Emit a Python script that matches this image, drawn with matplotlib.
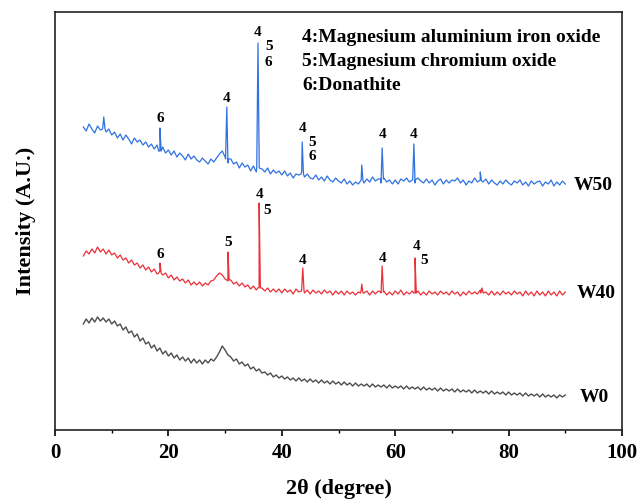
import numpy as np
import matplotlib
matplotlib.use("Agg")
import matplotlib.pyplot as plt

plt.rcParams['font.family'] = ['Liberation Serif', 'DejaVu Serif']
plt.rcParams['font.weight'] = 'bold'

# baseline intensities on a 0.5 degree grid from 5 to 90 (arbitrary units)
w50_base = [303, 299, 306, 301, 297, 304, 300, 306, 298, 301, 295,
            298, 292, 296, 290, 295, 291, 286, 292, 288, 290,
            285, 288, 283, 286, 281, 285, 279, 283, 277, 280,
            275, 279, 273, 277, 274, 270, 276, 271, 274, 270,
            268, 272, 269, 266, 271, 268, 272, 276, 279, 273,
            267, 271, 266, 268, 262, 267, 263, 265, 259, 264,
            258, 263, 261, 258, 262, 256, 260, 257, 259, 255,
            259, 254, 257, 252, 256, 255, 258, 253, 256, 252,
            251, 255, 250, 253, 249, 254, 250, 248, 252, 249,
            247, 251, 246, 249, 245, 248, 246, 250, 247, 251,
            248, 253, 249, 251, 247, 252, 248, 250, 246, 250,
            246, 251, 249, 252, 248, 250, 247, 252, 249, 247,
            251, 247, 250, 245, 249, 251, 246, 250, 247, 250,
            249, 252, 247, 250, 245, 249, 247, 252, 248, 250,
            248, 251, 246, 250, 247, 245, 249, 246, 250, 247,
            245, 249, 247, 250, 245, 248, 244, 249, 246, 248,
            249, 244, 248, 246, 250, 244, 248, 245, 249, 246]
w40_base = [174, 179, 176, 181, 177, 183, 178, 181, 176, 180, 175,
            177, 172, 175, 170, 172, 167, 170, 165, 167, 162,
            165, 160, 163, 158, 161, 156, 159, 155, 157, 152,
            155, 150, 153, 149, 151, 147, 150, 145, 148, 145,
            148, 144, 147, 145, 149, 150, 154, 157, 155, 151,
            149, 150, 146, 148, 144, 147, 143, 145, 141, 144,
            140, 143, 142, 139, 142, 138, 141, 138, 141, 137,
            141, 138, 140, 136, 141, 138, 140, 137, 140, 136,
            140, 137, 139, 136, 140, 137, 139, 135, 139, 136,
            139, 135, 139, 136, 138, 135, 138, 140, 137, 139,
            135, 139, 136, 139, 137, 139, 135, 138, 135, 139,
            136, 140, 135, 138, 136, 139, 137, 139, 135, 138,
            135, 139, 136, 138, 135, 139, 136, 138, 135, 139,
            136, 138, 134, 138, 135, 139, 136, 138, 136, 140,
            137, 138, 135, 139, 135, 138, 135, 139, 136, 138,
            135, 139, 136, 138, 134, 139, 135, 138, 134, 139,
            135, 138, 134, 139, 135, 138, 134, 139, 135, 138]
w0_base = [106, 111, 107, 112, 108, 113, 109, 112, 108, 111, 106,
           109, 104, 106, 100, 103, 97, 99, 93, 96, 89,
           92, 86, 88, 82, 85, 79, 82, 76, 79, 74,
           77, 72, 75, 70, 73, 69, 72, 67, 71, 67,
           70, 66, 70, 67, 71, 69, 73, 78, 84, 80,
           75, 73, 69, 71, 66, 68, 64, 66, 61, 63,
           59, 61, 57, 58, 55, 57, 53, 55, 52, 54,
           51, 53, 50, 52, 49, 52, 49, 51, 48, 51,
           48, 50, 47, 50, 47, 49, 46, 49, 46, 48,
           45, 48, 45, 47, 44, 47, 44, 46, 44, 46,
           43, 46, 43, 45, 43, 45, 42, 45, 42, 44,
           42, 44, 41, 44, 41, 43, 41, 43, 40, 43,
           40, 42, 40, 42, 39, 42, 39, 41, 39, 41,
           38, 41, 38, 40, 38, 40, 37, 40, 37, 39,
           37, 39, 36, 39, 36, 38, 36, 38, 35, 38,
           35, 37, 35, 37, 34, 37, 34, 36, 34, 36,
           33, 36, 33, 35, 33, 35, 32, 35, 33, 35]

# sharp reflections: position, top, foot
w50_peak_pos = [8.6, 18.5, 30.3, 35.8, 43.6, 54.1, 57.7, 63.3, 75.0]
w50_peak_top = [313, 302, 323, 387, 288, 265, 282, 286, 258]
w50_peak_foot = [301, 279, 271, 262, 256, 249, 251, 250, 249]
w40_peak_pos = [18.5, 30.5, 36.0, 43.7, 54.1, 57.7, 63.5, 75.3]
w40_peak_top = [167, 178, 227, 162, 146, 164, 172, 142]
w40_peak_foot = [157, 150, 142, 139, 137, 138, 137, 137]

# phase labels: (text, x, y)
w50_marks = [("6", 18.5, 311), ("4", 30.3, 332), ("4", 35.8, 397), ("5", 37.7, 383), ("6", 37.7, 367),
             ("4", 43.6, 301), ("5", 45.3, 287), ("6", 45.3, 273), ("4", 57.7, 295), ("4", 63.3, 295)]
w40_marks = [("6", 18.5, 176), ("5", 30.5, 187), ("4", 36.0, 236), ("5", 37.4, 219), ("4", 43.7, 170),
             ("4", 57.8, 172), ("4", 63.7, 184), ("5", 65.1, 170)]
legend_lines = ["4:Magnesium aluminium iron oxide", "5:Magnesium chromium oxide", "6:Donathite"]


def build(base, pos=(), top=(), foot=()):
    x = list(np.linspace(5, 90, len(base)))
    y = list(base)
    for p, t, f in zip(pos, top, foot):
        x += [p - 0.22, p, p + 0.22]
        y += [f, t, f]
    order = np.argsort(x, kind='stable')
    return np.array(x)[order], np.array(y)[order]


fig = plt.figure(figsize=(6.38, 5.0), dpi=100)
ax = fig.add_axes([55 / 638, 70 / 500, 567 / 638, 418 / 500])

x0, y0 = build(w0_base)
x40, y40 = build(w40_base, w40_peak_pos, w40_peak_top, w40_peak_foot)
x50, y50 = build(w50_base, w50_peak_pos, w50_peak_top, w50_peak_foot)
ax.plot(x0, y0, color='#4d4d4d', lw=1.0)
ax.plot(x40, y40, color='#ea3039', lw=0.9)
ax.plot(x50, y50, color='#2f72e0', lw=0.9)

for t, x, y in w50_marks + w40_marks:
    ax.text(x, y, t, fontsize=11, fontweight='bold', ha='center', va='center')

ax.text(91.5, 245, "W50", fontsize=14, fontweight='bold', va='center')
ax.text(92.0, 136, "W40", fontsize=14, fontweight='bold', va='center')
ax.text(92.5, 32, "W0", fontsize=14, fontweight='bold', va='center')

for i, s in enumerate(legend_lines):
    ax.text(43.6, [393, 368, 345][i], s, fontsize=14, fontweight='bold', va='center')

ax.set_xlim(0, 100)
ax.set_ylim(0, 418)
ax.set_xticks([0, 20, 40, 60, 80, 100])
ax.set_xticks([10, 30, 50, 70, 90], minor=True)
ax.set_yticks([])
ax.tick_params(axis='x', which='major', direction='out', length=4, width=1.2, labelsize=15, pad=5)
ax.tick_params(axis='x', which='minor', direction='out', length=2.5, width=1.0)
for lab in ax.get_xticklabels():
    lab.set_fontweight('bold')
for sp in ax.spines.values():
    sp.set_linewidth(1.2)
    sp.set_color('#222222')

ax.set_xlabel("2θ (degree)", fontsize=16, fontweight='bold', labelpad=12)
ax.set_ylabel("Intensity (A.U.)", fontsize=16, fontweight='bold', labelpad=14)

fig.savefig("out.png", dpi=100)
